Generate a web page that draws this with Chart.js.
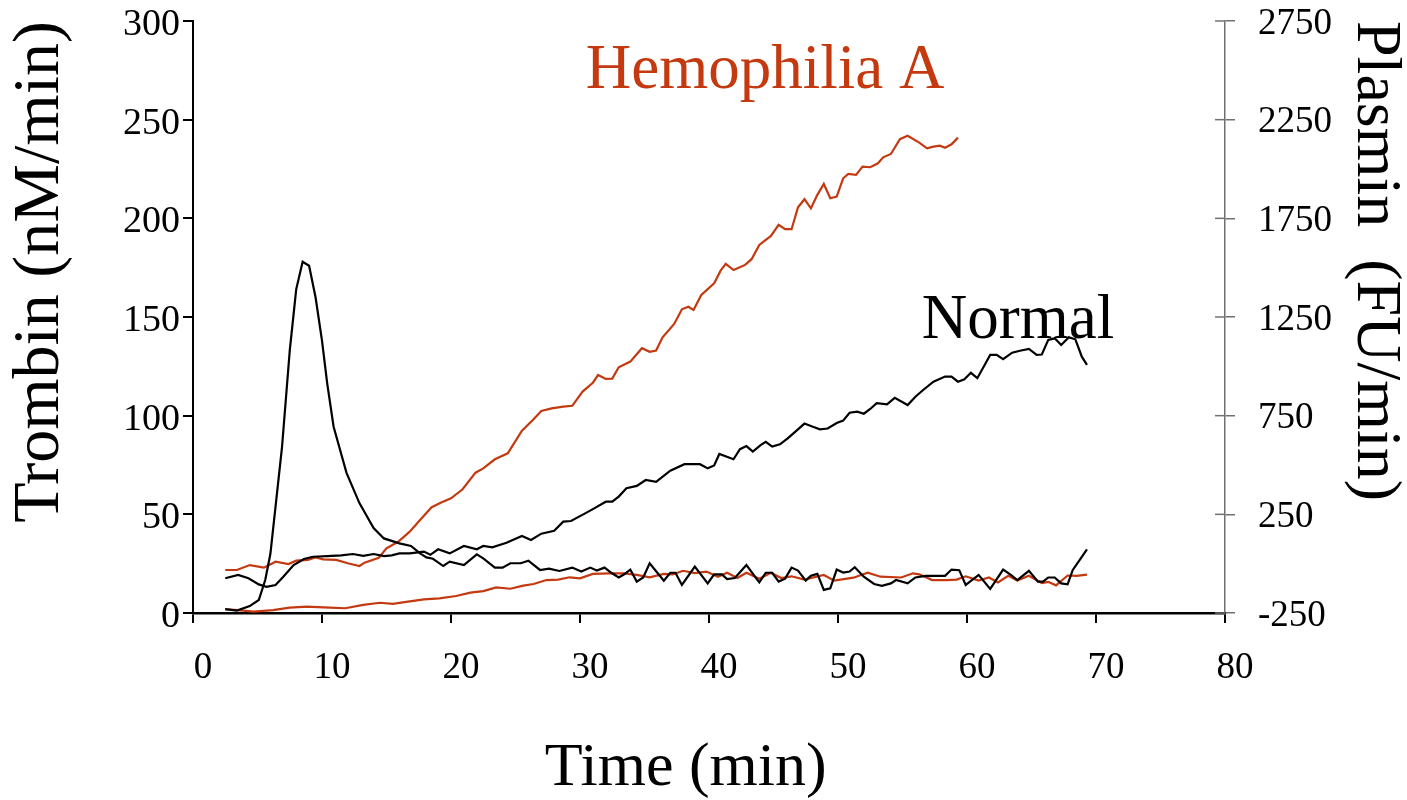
<!DOCTYPE html>
<html>
<head>
<meta charset="utf-8">
<script src="https://cdn.jsdelivr.net/npm/chart.js@4.4.1/dist/chart.umd.min.js"></script>
<style>
  html, body { margin: 0; padding: 0; background: #fff; }
  #wrap { width: 1407px; height: 800px; }
</style>
</head>
<body>
<div id="wrap"><canvas id="chart" width="1407" height="800"></canvas></div>
<script>
// axis ticks
const timeTicks = [0, 10, 20, 30, 40, 50, 60, 70, 80];
const thrombinTicks = [0, 50, 100, 150, 200, 250, 300];
const plasminTicks = [-250, 250, 750, 1250, 1750, 2250, 2750];

// Normal - thrombin (nM/min), left axis
const normalThrombinTime = [
  2.5, 3.4, 4.4, 5.1, 5.6, 6.0, 6.4, 6.9, 7.5, 8.0,
  8.5, 9.0, 9.5, 10.0, 10.4, 10.9, 11.9, 12.9, 14.0, 14.8,
  16.0, 16.9, 17.6, 18.1, 18.6, 19.4, 19.9, 21.0, 22.0, 22.5,
  23.4, 24.0, 24.6, 25.4, 26.0, 26.9, 27.6, 28.4, 29.4, 30.1,
  30.8, 31.3, 31.9, 32.4, 33.0, 33.4, 33.9, 34.4, 34.9, 35.4,
  36.5, 37.0, 37.4, 37.9, 38.9, 39.9, 40.4, 41.0, 41.4, 42.0,
  42.9, 43.9, 44.4, 44.9, 45.4, 45.9, 46.4, 46.9, 47.5, 47.9,
  48.4, 48.9, 49.4, 49.9, 50.4, 50.9, 51.3, 52.0, 52.8, 53.4,
  54.1, 54.5, 55.4, 56.0, 56.8, 58.3, 58.8, 59.4, 59.9, 60.9,
  61.8, 62.8, 63.4, 63.9, 64.8, 65.5, 65.9, 66.3, 66.8, 67.3,
  67.8, 68.2, 68.9, 69.3
];
const normalThrombin = [
  2, 1.2, 3.5, 6.6, 16.7, 30, 54, 84, 133, 164,
  178, 176, 160, 138, 116.5, 94.4, 71, 55.7, 43, 37.8,
  35.3, 34, 30.2, 28.2, 27.5, 23.8, 26, 24.3, 29.7, 27.7,
  23, 23, 25.2, 25.2, 26.5, 21.8, 22.5, 21.3, 23, 21,
  23, 21.5, 23, 20.5, 18, 19.5, 22, 15.9, 18, 25.2,
  16.4, 20.4, 20.4, 14.2, 23.5, 15, 19.6, 19.6, 17.2, 17.7,
  24.3, 15.5, 20.4, 20.4, 15.9, 17.4, 23, 21.5, 16.4, 18.9,
  19.8, 11.7, 12.5, 22, 20.5, 21, 23.2, 18.4, 14.7, 13.8,
  15, 16.7, 15, 18, 18.8, 18.8, 22, 21.7, 14.2, 19.3,
  12.2, 22, 19.3, 16.7, 21.4, 15.9, 15.9, 18, 18, 15,
  14.5, 21.8, 28.5, 32.3
];

// Normal - plasmin (FU/min), right axis
const normalPlasminTime = [
  2.5, 3.5, 4.3, 5.1, 5.7, 6.4, 7.0, 7.8, 8.6, 9.3,
  10.4, 11.5, 12.4, 13.2, 14.0, 14.8, 15.4, 16.0, 16.8, 17.9,
  18.4, 19.0, 19.9, 21.0, 22.0, 22.5, 23.2, 24.3, 25.5, 26.2,
  27.0, 28.0, 28.7, 29.3, 30.4, 31.1, 32.0, 32.5, 33.0, 33.6,
  34.4, 35.1, 35.9, 37.0, 38.1, 39.3, 39.9, 40.4, 40.8, 41.9,
  42.4, 42.9, 43.4, 44.0, 44.4, 44.9, 45.5, 46.1, 46.7, 47.4,
  48.0, 48.6, 49.2, 49.9, 50.4, 50.9, 51.5, 52.0, 52.5, 53.0,
  53.8, 54.4, 55.4, 56.0, 56.6, 57.4, 58.3, 58.8, 59.3, 59.8,
  60.3, 60.8, 61.8, 62.3, 62.8, 63.5, 64.1, 64.8, 65.4, 65.8,
  66.3, 66.8, 67.3, 67.9, 68.4, 68.9, 69.3
];
const normalPlasmin = [
  -74, -57, -74, -105, -117, -108, -66, -7, 24, 35,
  38, 42, 49, 40, 49, 38, 42, 52, 52, 61,
  45, 73, 52, 90, 73, 90, 83, 106, 140, 120,
  152, 167, 213, 216, 255, 280, 314, 314, 340, 382,
  394, 424, 415, 471, 504, 504, 483, 498, 556, 529,
  580, 596, 568, 601, 617, 593, 605, 635, 669, 710,
  695, 681, 685, 713, 725, 765, 770, 760, 784, 813,
  807, 840, 804, 846, 880, 922, 948, 948, 922, 934,
  967, 940, 1058, 1058, 1036, 1069, 1079, 1088, 1058, 1060,
  1134, 1142, 1108, 1147, 1137, 1049, 1007
];

// Hemophilia A - thrombin (nM/min), left axis
const hemoThrombinTime = [
  2.5, 3.5, 4.7, 6.2, 7.5, 8.8, 10.6, 11.8, 13.2, 14.5,
  15.5, 16.4, 17.9, 19.1, 20.4, 21.5, 22.5, 23.5, 24.6, 25.6,
  26.4, 27.4, 28.3, 29.2, 30.0, 31.0, 32.3, 33.4, 34.4, 35.4,
  36.5, 37.2, 38.0, 38.9, 39.8, 40.7, 41.4, 42.2, 42.9, 43.9,
  44.8, 45.6, 46.4, 47.4, 48.9, 49.7, 51.2, 52.3, 53.3, 54.9,
  55.8, 56.3, 57.3, 58.4, 59.2, 59.9, 60.9, 61.7, 62.4, 63.2,
  63.9, 64.8, 65.8, 66.3, 66.9, 67.8, 68.5, 69.3
];
const hemoThrombin = [
  1.9, 1.5, 0.7, 1.5, 2.7, 3.2, 2.7, 2.4, 4.1, 5.2,
  4.6, 5.5, 6.9, 7.4, 8.6, 10.3, 11.1, 13, 12.3, 13.9,
  14.7, 16.7, 16.9, 18.1, 17.6, 19.8, 20.1, 20.1, 19.3, 18.1,
  19.8, 19.6, 21.4, 20.2, 21, 18.4, 20.4, 17.7, 20.4, 17.4,
  20.4, 17.7, 18.6, 16.9, 19.3, 16.4, 17.9, 20.4, 18.4, 18,
  20.1, 19.6, 16.7, 16.7, 16.9, 18.6, 16.4, 18, 15.5, 18.9,
  16.4, 18.9, 15.2, 15.8, 14, 19, 18.8, 19.4
];

// Hemophilia A - plasmin (FU/min), right axis
const hemoPlasminTime = [
  2.5, 3.4, 4.4, 5.5, 6.4, 7.4, 8.0, 8.9, 9.5, 10.1,
  11.1, 12.0, 12.9, 13.3, 14.4, 15.0, 15.9, 16.8, 17.6, 18.5,
  19.2, 20.0, 20.9, 21.9, 22.5, 23.4, 24.4, 25.5, 26.4, 27.0,
  27.8, 28.7, 29.4, 30.2, 31.0, 31.4, 32.0, 32.5, 33.0, 33.9,
  34.8, 35.4, 35.9, 36.4, 37.3, 37.9, 38.4, 38.8, 39.4, 40.4,
  40.9, 41.3, 41.9, 42.8, 43.3, 43.9, 44.8, 45.4, 45.9, 46.4,
  46.9, 47.4, 47.9, 48.4, 48.9, 49.4, 49.9, 50.4, 50.8, 51.4,
  51.9, 52.5, 53.1, 53.5, 54.1, 54.8, 55.4, 56.3, 56.9, 57.4,
  57.9, 58.3, 58.8, 59.3
];
const hemoPlasmin = [
  -32, -32, -7, -20, 10, -2, 15, 19, 32, 22,
  19, 2, -12, 5, 30, 78, 111, 162, 221, 286,
  309, 331, 377, 461, 483, 529, 559, 674, 732, 774,
  787, 796, 800, 872, 917, 956, 936, 938, 995, 1024,
  1092, 1074, 1080, 1147, 1215, 1289, 1302, 1286, 1362, 1421,
  1485, 1519, 1488, 1514, 1543, 1615, 1661, 1717, 1695, 1695,
  1806, 1847, 1801, 1869, 1924, 1852, 1860, 1953, 1975, 1970,
  2012, 2009, 2029, 2059, 2076, 2151, 2168, 2134, 2105, 2113,
  2118, 2108, 2125, 2159
];

const RED = "#c4390f";
const BLACK = "#000000";
const GREY_AXIS = "#707070";
const SERIF = "'Liberation Serif', 'Times New Roman', 'DejaVu Serif', serif";

// in-plot curve labels, placed in data units (time, thrombin)
const curveLabels = [
  { text: "Hemophilia A", t: 30.45, v: 266, color: RED },
  { text: "Normal", t: 56.5, v: 139.5, color: BLACK }
];

function toPoints(times, values) {
  return times.map((t, i) => ({ x: t, y: values[i] }));
}

function useTicks(list) {
  return scale => { scale.ticks = list.map(v => ({ value: v })); };
}

// fixed box sizes so the plot area sits where the figure has it
function fixBox(size) {
  return s => {
    if (s.isHorizontal()) s.height = size; else s.width = size;
    s.paddingTop = 0; s.paddingBottom = 0;
    s.paddingLeft = 0; s.paddingRight = 0;
  };
}

// draws the inner half of the right-axis ticks and the curve labels
const overlayPlugin = {
  id: "overlay",
  afterDraw(chart) {
    const { ctx, scales } = chart;
    const right = scales.y1;
    ctx.save();
    ctx.strokeStyle = GREY_AXIS;
    ctx.lineWidth = 1.5;
    right.ticks.forEach(tk => {
      const py = right.getPixelForValue(tk.value);
      ctx.beginPath();
      ctx.moveTo(right.left - 10, py);
      ctx.lineTo(right.left, py);
      ctx.stroke();
    });
    ctx.font = "63px " + SERIF;
    ctx.textAlign = "left";
    ctx.textBaseline = "alphabetic";
    curveLabels.forEach(lb => {
      ctx.fillStyle = lb.color;
      ctx.fillText(lb.text, scales.x.getPixelForValue(lb.t), scales.y.getPixelForValue(lb.v));
    });
    ctx.restore();
  }
};

const lineStyle = { borderWidth: 2.2, pointRadius: 0, tension: 0, fill: false };
const plainNumber = v => String(v);

new Chart(document.getElementById("chart").getContext("2d"), {
  type: "line",
  data: {
    datasets: [
      { ...lineStyle, label: "Normal thrombin", data: toPoints(normalThrombinTime, normalThrombin), borderColor: BLACK, yAxisID: "y" },
      { ...lineStyle, label: "Normal plasmin", data: toPoints(normalPlasminTime, normalPlasmin), borderColor: BLACK, yAxisID: "y1" },
      { ...lineStyle, label: "Hemophilia A thrombin", data: toPoints(hemoThrombinTime, hemoThrombin), borderColor: RED, yAxisID: "y" },
      { ...lineStyle, label: "Hemophilia A plasmin", data: toPoints(hemoPlasminTime, hemoPlasmin), borderColor: RED, yAxisID: "y1" }
    ]
  },
  options: {
    responsive: false,
    animation: false,
    devicePixelRatio: 1,
    layout: { padding: { top: 21, left: 0, right: 0, bottom: 0 } },
    plugins: { legend: { display: false }, tooltip: { enabled: false } },
    scales: {
      x: {
        type: "linear",
        position: "bottom",
        min: timeTicks[0],
        max: timeTicks[timeTicks.length - 1],
        afterBuildTicks: useTicks(timeTicks),
        afterFit: fixBox(187),
        border: { color: BLACK, width: 2.5 },
        grid: { drawOnChartArea: false, color: BLACK, lineWidth: 2, tickLength: 10 },
        ticks: { color: BLACK, padding: 27, labelOffset: 10, maxRotation: 0, autoSkip: false,
                 callback: plainNumber, font: { family: SERIF, size: 37, lineHeight: 1 } },
        title: { display: true, text: "Time (min)   ", color: BLACK,
                 padding: { top: 0, bottom: 0 }, font: { family: SERIF, size: 62, lineHeight: 1 } }
      },
      y: {
        type: "linear",
        position: "left",
        min: thrombinTicks[0],
        max: thrombinTicks[thrombinTicks.length - 1],
        afterBuildTicks: useTicks(thrombinTicks),
        afterFit: fixBox(193),
        border: { color: BLACK, width: 2 },
        grid: { drawOnChartArea: false, color: BLACK, lineWidth: 2, tickLength: 10 },
        ticks: { color: BLACK, padding: 3, labelOffset: 4,
                 callback: plainNumber, font: { family: SERIF, size: 38, lineHeight: 1 } },
        title: { display: true, text: "Trombin (nM/min)", align: "end", color: BLACK,
                 padding: { top: 8, bottom: 0 }, font: { family: SERIF, size: 66, lineHeight: 1 } }
      },
      y1: {
        type: "linear",
        position: "right",
        min: plasminTicks[0],
        max: plasminTicks[plasminTicks.length - 1],
        afterBuildTicks: useTicks(plasminTicks),
        afterFit: fixBox(182),
        border: { color: GREY_AXIS, width: 1.5 },
        grid: { drawOnChartArea: false, color: GREY_AXIS, lineWidth: 1.5, tickLength: 10 },
        ticks: { color: BLACK, padding: 23, labelOffset: 3,
                 callback: plainNumber, font: { family: SERIF, size: 37, lineHeight: 1 } },
        title: { display: true, text: "Plasmin  (FU/min)", align: "end", color: BLACK,
                 padding: { top: 0, bottom: 0 }, font: { family: SERIF, size: 64, lineHeight: 1 } }
      }
    }
  },
  plugins: [overlayPlugin]
});
</script>
</body>
</html>
